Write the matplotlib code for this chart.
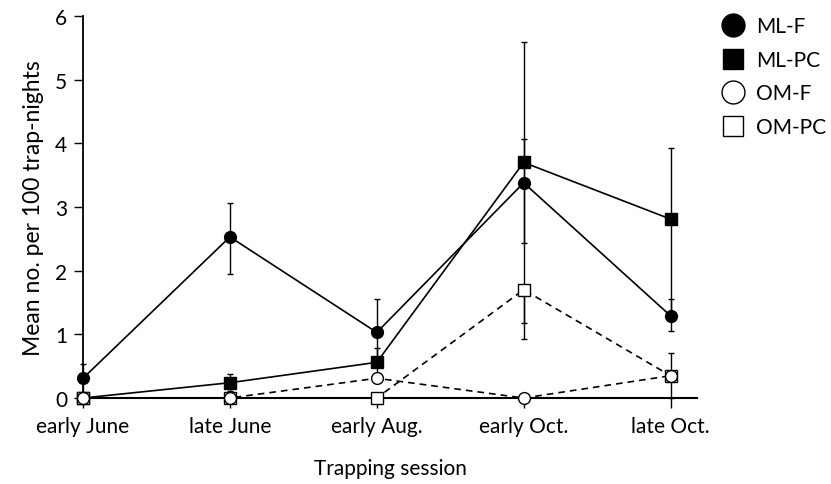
import numpy as np
import matplotlib.pyplot as plt
from matplotlib.lines import Line2D

plt.rcParams["font.family"] = ["Lato", "DejaVu Sans"]

sessions = ["early June", "late June", "early Aug.", "early Oct.", "late Oct."]
ml_f = [0.31, 2.53, 1.03, 3.38, 1.29]
ml_f_lo = [0.31, 0.59, 0.52, 0.95, 0.24]
ml_f_hi = [0.22, 0.54, 0.52, 0.69, 0.26]
ml_pc = [0.0, 0.24, 0.56, 3.70, 2.81]
ml_pc_lo = [0.0, 0.13, 0.23, 2.52, 1.52]
ml_pc_hi = [0.0, 0.13, 0.23, 1.89, 1.11]
om_f = [0.0, 0.0, 0.31, 0.0, 0.35]
om_pc = [0.0, 0.0, 0.0, 1.70, 0.35]
om_pc_lo = [0.0, 0.0, 0.0, 0.78, 0.35]
om_pc_hi = [0.0, 0.0, 0.0, 0.0, 0.35]

x = np.arange(len(sessions))

fig = plt.figure(figsize=(8.31, 4.85), dpi=100)
ax = fig.add_axes([83/831, 86/485, (697-83)/831, (399-17)/485])

ekw = dict(color="black", lw=1.0, capsize=2.5, capthick=1.0, clip_on=False)
ax.errorbar(x, ml_f, yerr=[ml_f_lo, ml_f_hi], fmt="none", zorder=2, **ekw)
ax.errorbar(x, ml_pc, yerr=[ml_pc_lo, ml_pc_hi], fmt="none", zorder=2, **ekw)
ax.errorbar(x, om_pc, yerr=[om_pc_lo, om_pc_hi], fmt="none", zorder=2, **ekw)

ax.plot(x, ml_f, "-", color="black", lw=1.2, marker="o", ms=8.5,
        mfc="black", mec="black", clip_on=False, zorder=4)
ax.plot(x, ml_pc, "-", color="black", lw=1.2, marker="s", ms=8,
        mfc="black", mec="black", clip_on=False, zorder=4)
ax.plot(x, om_pc, "--", color="black", lw=1.2, marker="s", ms=8,
        mfc="white", mec="black", mew=1.0, dashes=(4, 3), clip_on=False, zorder=5)
ax.plot(x, om_f, "--", color="black", lw=1.2, marker="o", ms=8.5,
        mfc="white", mec="black", mew=1.0, dashes=(4, 3), clip_on=False, zorder=6)

ax.set_xlim(0, 4.18)
ax.set_ylim(0, 6)
ax.set_xticks(x)
ax.set_xticklabels(sessions, fontsize=15)
ax.set_yticks(range(7))
ax.set_yticklabels([str(i) for i in range(7)], fontsize=15)
ax.spines["top"].set_visible(False)
ax.spines["right"].set_visible(False)
ax.spines["left"].set_linewidth(1.3)
ax.spines["bottom"].set_linewidth(1.5)
ax.tick_params(axis="x", direction="out", length=7, width=1.0, pad=6)
ax.tick_params(axis="y", direction="out", length=6.5, width=1.0, pad=5)
ax.set_xlabel("Trapping session", fontsize=15, labelpad=16)
ax.set_ylabel("Mean no. per 100 trap-nights", fontsize=16.5, labelpad=8)

handles = [
    Line2D([], [], ls="none", marker="o", ms=16.5, mfc="black", mec="black"),
    Line2D([], [], ls="none", marker="s", ms=14.5, mfc="black", mec="black"),
    Line2D([], [], ls="none", marker="o", ms=16.5, mfc="white", mec="black"),
    Line2D([], [], ls="none", marker="s", ms=14.5, mfc="white", mec="black"),
]
fig.legend(handles, ["ML-F", "ML-PC", "OM-F", "OM-PC"], loc="upper left",
           bbox_to_anchor=(710/831, 1 - 7/485), frameon=False, fontsize=15,
           borderpad=0, handletextpad=0.5, labelspacing=0.65, handlelength=1.2)

fig.savefig("out.png", dpi=100)
